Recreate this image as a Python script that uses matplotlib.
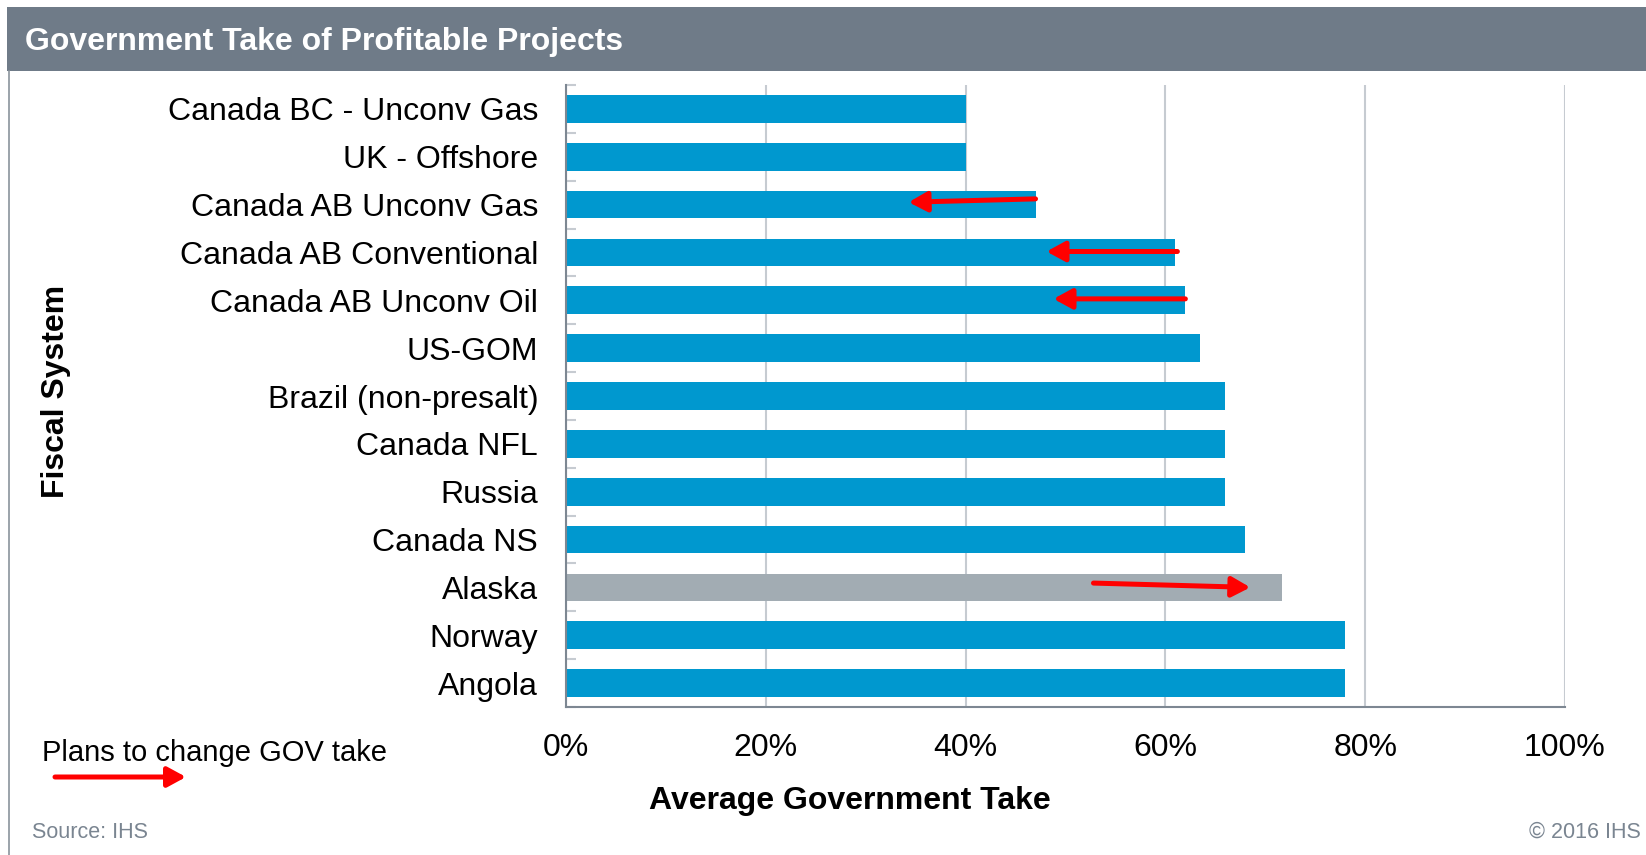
import matplotlib

matplotlib.use("Agg")
import matplotlib.pyplot as plt
from matplotlib.patches import Rectangle, FancyArrowPatch
from matplotlib.lines import Line2D
from matplotlib.ticker import FixedLocator, PercentFormatter

plt.rcParams["font.family"] = ["Liberation Sans", "DejaVu Sans"]

# data (top to bottom)
systems = [
    "Canada BC - Unconv Gas",
    "UK - Offshore",
    "Canada AB Unconv Gas",
    "Canada AB Conventional",
    "Canada AB Unconv Oil",
    "US-GOM",
    "Brazil (non-presalt)",
    "Canada NFL",
    "Russia",
    "Canada NS",
    "Alaska",
    "Norway",
    "Angola",
]
gov_take = [40.0, 40.0, 47.0, 61.0, 62.0, 63.5, 66.0, 66.0, 66.0, 68.0, 71.7, 78.0, 78.0]
highlight = ["Alaska"]

# planned changes: system, from %, to %
change_system = ["Canada AB Unconv Gas", "Canada AB Conventional", "Canada AB Unconv Oil", "Alaska"]
change_from = [47.0, 61.2, 62.0, 52.8]
change_to = [34.3, 48.1, 48.8, 68.5]

BLUE = "#0098CF"
GREY_BAR = "#A2ACB3"
HEADER = "#6F7B88"
GRID = "#C6CBD1"
SPINE = "#7D8792"
RED = "#FF0000"
ARROW = "-|>,head_length=0.55,head_width=0.3"

W, H = 1646, 855
fig = plt.figure(figsize=(W / 100, H / 100), dpi=100)


def fx(px):
    return px / W


def fy(py):
    return 1 - py / H


# header bar and card border
fig.patches.append(
    Rectangle((fx(7), fy(71)), 1 - fx(7), fy(7) - fy(71), transform=fig.transFigure,
              facecolor=HEADER, edgecolor="none", zorder=0)
)
fig.add_artist(Line2D([fx(9), fx(9)], [fy(71), 0], transform=fig.transFigure, color="#8A939C", lw=1.2))
fig.text(fx(25), fy(42), "Government Take of Profitable Projects", color="white",
         fontsize=23, fontweight="bold", va="center", ha="left")

ax = fig.add_axes([fx(566), fy(707), fx(1565) - fx(566), fy(85) - fy(707)])
ypos = list(range(len(systems)))
colors = [GREY_BAR if s in highlight else BLUE for s in systems]
ax.barh(ypos, gov_take, height=0.58, color=colors, zorder=2)

# small vertical nudges so the arrows sit like in the original
tail_dy = [-0.12, -0.02, -0.03, -0.09]
head_dy = [-0.05, -0.02, -0.03, 0.0]
for s, x0, x1, d0, d1 in zip(change_system, change_from, change_to, tail_dy, head_dy):
    yi = systems.index(s)
    ax.annotate("", xy=(x1, yi + d1), xytext=(x0, yi + d0),
                arrowprops=dict(arrowstyle=ARROW, color=RED, lw=3.6, shrinkA=0, shrinkB=0,
                                mutation_scale=20), zorder=4)

ax.set_xlim(0, 100)
ax.set_ylim(len(systems) - 0.5, -0.5)
ax.set_yticks(ypos)
ax.set_yticklabels(systems, fontsize=23)
ax.yaxis.set_minor_locator(FixedLocator([i + 0.5 for i in range(-1, len(systems))]))
ax.tick_params(axis="y", which="major", length=0, pad=20)
ax.tick_params(axis="y", which="minor", length=7, direction="in", color=GRID, width=1.5)
ax.set_xticks([0, 20, 40, 60, 80, 100])
ax.xaxis.set_major_formatter(PercentFormatter(decimals=0))
ax.tick_params(axis="x", length=0, pad=18.5, labelsize=23)
ax.grid(axis="x", color=GRID, lw=1.5, zorder=1)
ax.set_axisbelow(True)
for side in ("top", "right"):
    ax.spines[side].set_visible(False)
for side in ("left", "bottom"):
    ax.spines[side].set_color(SPINE)
    ax.spines[side].set_linewidth(1.5)

fig.text(fx(850), fy(801), "Average Government Take", fontsize=23, fontweight="bold",
         ha="center", va="center")
fig.text(fx(56), fy(391), "Fiscal System", fontsize=23, fontweight="bold",
         ha="center", va="center", rotation=90)

# legend note
fig.text(fx(42), fy(753), "Plans to change GOV take", fontsize=21, ha="left", va="center")
fig.patches.append(
    FancyArrowPatch((fx(55), fy(777)), (fx(186), fy(777)), transform=fig.transFigure,
                    arrowstyle=ARROW, color=RED, lw=3.6, mutation_scale=20,
                    shrinkA=0, shrinkB=0)
)

fig.text(fx(32), fy(832), "Source: IHS", fontsize=15.5, color="#7A8591", ha="left", va="center")
fig.text(fx(1641), fy(832), "\u00a9 2016 IHS", fontsize=15.5, color="#7A8591", ha="right", va="center")

fig.savefig("out.png", dpi=100)
